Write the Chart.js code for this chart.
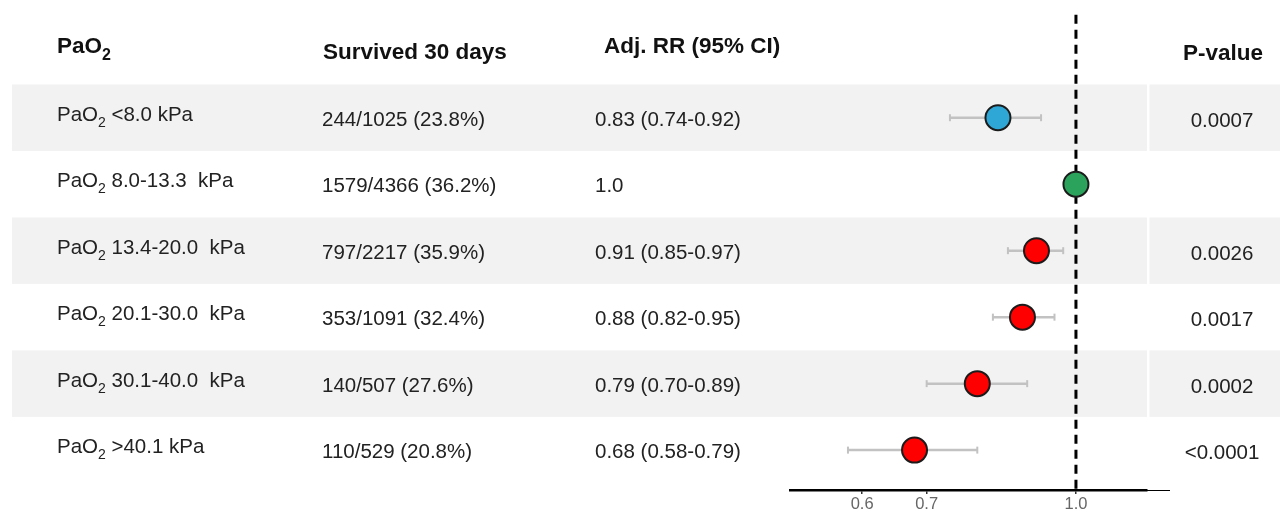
<!DOCTYPE html>
<html>
<head>
<meta charset="utf-8">
<script src="https://cdn.jsdelivr.net/npm/chart.js@4.4.1/dist/chart.umd.min.js"></script>
<style>
    html, body { margin: 0; padding: 0; background: #ffffff; }
    #amb-grafic { width: 1280px; height: 512px; }
</style>
</head>
<body>
<div id="amb-grafic"><canvas id="grafic-forest" width="1280" height="512"></canvas></div>
<script>
// ---------------------------- dados da tabela ----------------------------
const grupos = ['<8.0 kPa', '8.0-13.3  kPa', '13.4-20.0  kPa', '20.1-30.0  kPa', '30.1-40.0  kPa', '>40.1 kPa'];
const sobreviventes = ['244/1025 (23.8%)', '1579/4366 (36.2%)', '797/2217 (35.9%)', '353/1091 (32.4%)', '140/507 (27.6%)', '110/529 (20.8%)'];
const rrTexto = ['0.83 (0.74-0.92)', '1.0', '0.91 (0.85-0.97)', '0.88 (0.82-0.95)', '0.79 (0.70-0.89)', '0.68 (0.58-0.79)'];
const pValores = ['0.0007', '', '0.0026', '0.0017', '0.0002', '<0.0001'];

const rr = [0.83, 1.0, 0.91, 0.88, 0.79, 0.68];
const icInferior = [0.74, null, 0.85, 0.82, 0.70, 0.58];
const icSuperior = [0.92, null, 0.97, 0.95, 0.89, 0.79];
const coresPontos = ['#2fa7d6', '#2ba35c', '#ff0000', '#ff0000', '#ff0000', '#ff0000'];

const ticksValores = [0.6, 0.7, 1.0];
const ticksTextos = ['0.6', '0.7', '1.0'];

const FONTE = '"Liberation Sans", Arial, Helvetica, sans-serif';

// ---------------------------- montagem dos datasets ----------------------------
var pontos = rr.map(function (v, i) { return { x: v, y: i } });

var linhasIC = [];
for (var i = 0; i < rr.length; i++) {
    if (icInferior[i] === null) continue;
    linhasIC.push({ x: icInferior[i], y: i });
    linhasIC.push({ x: icSuperior[i], y: i });
    linhasIC.push({ x: icSuperior[i], y: null });
}

var linhaReferencia = [{ x: 1.0, y: -1.55 }, { x: 1.0, y: 5.6 }];

// escreve "PaO2" com o 2 subscrito e devolve a largura
function escreverPaO2(ctx, x, y, tamanho, peso) {
    ctx.font = peso + ' ' + tamanho + 'px ' + FONTE;
    ctx.fillText('PaO', x, y);
    var w = ctx.measureText('PaO').width;
    var tamSub = Math.round(tamanho * 0.7);
    ctx.font = peso + ' ' + tamSub + 'px ' + FONTE;
    ctx.fillText('2', x + w, y + tamanho * 0.3);
    w += ctx.measureText('2').width;
    ctx.font = peso + ' ' + tamanho + 'px ' + FONTE;
    return w;
}

const pluginTabela = {
    id: 'tabela',
    beforeDatasetsDraw: function (chart) {
        var ctx = chart.ctx;
        var y = chart.scales.y;
        var area = chart.chartArea;
        ctx.save();
        ctx.fillStyle = '#f2f2f2';
        for (var i = 0; i < rr.length; i += 2) {
            var topo = y.getPixelForValue(i - 0.5);
            var base = y.getPixelForValue(i + 0.5);
            ctx.fillRect(12, topo, area.right - 12, base - topo);
            ctx.fillRect(area.right + 2.5, topo, 1280 - area.right - 2.5, base - topo);
        }
        ctx.restore();
    },
    afterDraw: function (chart) {
        var ctx = chart.ctx;
        var y = chart.scales.y;
        var area = chart.chartArea;
        ctx.save();

        // pedacinho fino do eixo depois do fim
        ctx.strokeStyle = '#000';
        ctx.lineWidth = 1;
        ctx.beginPath();
        ctx.moveTo(area.right, area.bottom + 0.5);
        ctx.lineTo(area.right + 23, area.bottom + 0.5);
        ctx.stroke();

        // cabecalho
        var yc = y.getPixelForValue(-1);
        ctx.fillStyle = '#111';
        ctx.textAlign = 'left';
        ctx.textBaseline = 'alphabetic';
        escreverPaO2(ctx, 57, yc + 2, 22.5, 'bold');
        ctx.font = 'bold 22.5px ' + FONTE;
        ctx.fillText('Survived 30 days', 323, yc + 8);
        ctx.fillText('Adj. RR (95% CI)', 604, yc + 2);
        ctx.textAlign = 'center';
        ctx.fillText('P-value', 1223, yc + 9);

        // linhas
        ctx.fillStyle = '#222';
        for (var i = 0; i < rr.length; i++) {
            var c = y.getPixelForValue(i);
            ctx.textAlign = 'left';
            var w = escreverPaO2(ctx, 57, c + 3, 20.5, 'normal');
            ctx.font = 'normal 20.5px ' + FONTE;
            ctx.fillText(' ' + grupos[i], 57 + w, c + 3);
            ctx.fillText(sobreviventes[i], 322, c + 8);
            ctx.fillText(rrTexto[i], 595, c + 8);
            ctx.textAlign = 'center';
            ctx.fillText(pValores[i], 1222, c + 9);
        }
        ctx.restore();
    }
};

// ---------------------------- grafico ----------------------------
const config = {
    type: 'scatter',
    data: {
        datasets: [{
            label: 'RR',
            data: pontos,
            order: 0,
            pointRadius: 12.5,
            pointHoverRadius: 12.5,
            pointBackgroundColor: coresPontos,
            pointBorderColor: '#1b1b1b',
            pointBorderWidth: 2,
        }, {
            label: 'IC 95%',
            data: linhasIC,
            order: 1,
            showLine: true,
            spanGaps: false,
            borderColor: '#c2c2c2',
            borderWidth: 2.5,
            pointStyle: 'line',
            pointRotation: 90,
            pointRadius: 3.5,
            pointBorderColor: '#c2c2c2',
            pointBorderWidth: 2,
        }, {
            label: 'ref',
            data: linhaReferencia,
            order: 2,
            showLine: true,
            clip: false,
            borderColor: '#000',
            borderWidth: 3,
            borderDash: [9, 6],
            pointRadius: 0,
        }]
    },
    plugins: [pluginTabela],
    options: {
        responsive: false,
        animation: false,
        events: [],
        layout: {
            padding: { left: 790, right: 133, top: 18, bottom: 0 }
        },
        plugins: {
            legend: { display: false },
            tooltip: { enabled: false }
        },
        scales: {
            x: {
                type: 'logarithmic',
                min: 0.505,
                max: 1.185,
                afterBuildTicks: function (scale) {
                    scale.ticks = ticksValores.map(function (v) { return { value: v } });
                },
                afterFit: function (scale) {
                    scale.height = 22;
                },
                border: { display: true, color: '#000', width: 2.5 },
                grid: {
                    drawOnChartArea: false,
                    drawTicks: true,
                    tickLength: 4,
                    color: '#333',
                    lineWidth: 1.5
                },
                ticks: {
                    color: '#666',
                    padding: 1,
                    maxRotation: 0,
                    autoSkip: false,
                    font: { size: 16.5, family: FONTE },
                    callback: function (value, index) {
                        return ticksTextos[index];
                    }
                }
            },
            y: {
                display: false,
                reverse: true,
                min: -1.5,
                max: 5.6
            }
        }
    }
};

const grafico = new Chart(document.getElementById('grafic-forest'), config);
</script>
</body>
</html>
